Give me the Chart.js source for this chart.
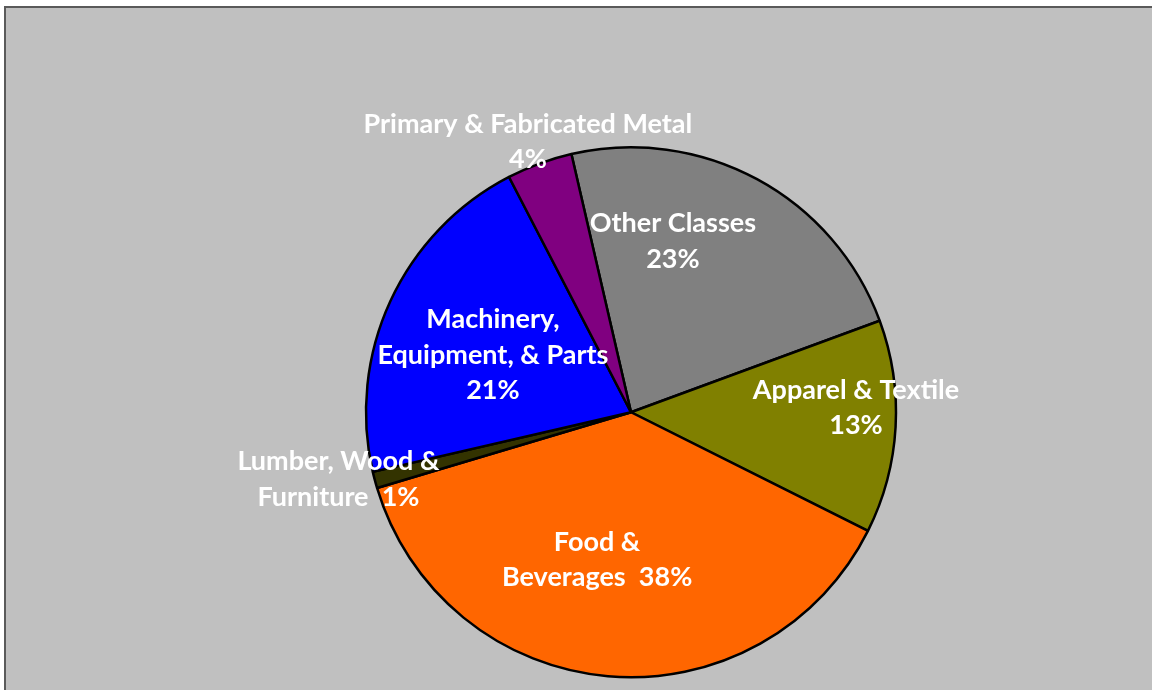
<!DOCTYPE html>
<html>
<head>
<meta charset="utf-8">
<script src="https://cdn.jsdelivr.net/npm/chart.js@4"></script>
<style>
    html, body { margin: 0; padding: 0; background: #ffffff; overflow: hidden; }
    #frame {
        position: absolute; left: 4px; top: 6px; width: 1200px; height: 720px;
        background: #c0c0c0; border-left: 2px solid #5a5a5a; border-top: 2px solid #5a5a5a;
    }
    #wrap { position: absolute; left: 0; top: 0; width: 1152px; height: 690px; }
</style>
</head>
<body>
<div id="frame"></div>
<div id="wrap"><canvas id="pieChart" width="1152" height="690"></canvas></div>
<script>
// Share by class (percent)
const categories = ['Other Classes', 'Apparel & Textile', 'Food & Beverages', 'Lumber, Wood & Furniture', 'Machinery, Equipment, & Parts', 'Primary & Fabricated Metal'];
const shares = [23, 13, 38, 1, 21, 4];
const sliceColors = ['#808080', '#808000', '#ff6600', '#333300', '#0000ff', '#800080'];
// label text, one entry per line ({v} = percent)
const labelLines = [
    ['Other Classes', '{v}%'],
    ['Apparel & Textile', '{v}%'],
    ['Food &', 'Beverages  {v}%'],
    ['Lumber, Wood &', 'Furniture  {v}%'],
    ['Machinery,', 'Equipment, & Parts', '{v}%'],
    ['Primary & Fabricated Metal', '{v}%']
];

document.addEventListener('DOMContentLoaded', function() {
    // label block centres, in units of the pie radius from its centre
    const labelPos = [
        [0.158, -0.645], [0.849, -0.017], [-0.128, 0.557],
        [-1.104, 0.253], [-0.521, -0.215], [-0.389, -1.021]
    ];
    const lineH = 35.5;

    const pieLabels = {
        id: 'pieLabels',
        afterDatasetsDraw(chart) {
            const ctx = chart.ctx;
            const meta = chart.getDatasetMeta(0);
            ctx.save();
            ctx.fillStyle = '#ffffff';
            ctx.font = 'bold 27px Lato, "Open Sans", sans-serif';
            ctx.textAlign = 'center';
            ctx.textBaseline = 'middle';
            meta.data.forEach((arc, i) => {
                const r = arc.outerRadius;
                const cx = arc.x + labelPos[i][0] * r;
                const cy = arc.y + labelPos[i][1] * r;
                const lines = labelLines[i];
                const top = cy - (lines.length - 1) * lineH / 2;
                lines.forEach((t, k) => {
                    ctx.fillText(t.replace('{v}', shares[i]), cx, top + k * lineH);
                });
            });
            ctx.restore();
        }
    };

    new Chart(document.getElementById('pieChart'), {
        type: 'pie',
        data: {
            labels: categories,
            datasets: [{
                data: shares,
                backgroundColor: sliceColors,
                borderColor: '#000000',
                borderWidth: 2.5,
                hoverOffset: 0
            }]
        },
        options: {
            responsive: false,
            animation: false,
            rotation: -13,
            layout: { padding: { top: 146, bottom: 11.5, left: 200, right: 90 } },
            plugins: {
                legend: { display: false },
                tooltip: { enabled: false }
            },
            events: []
        },
        plugins: [pieLabels]
    });
});
</script>
</body>
</html>
